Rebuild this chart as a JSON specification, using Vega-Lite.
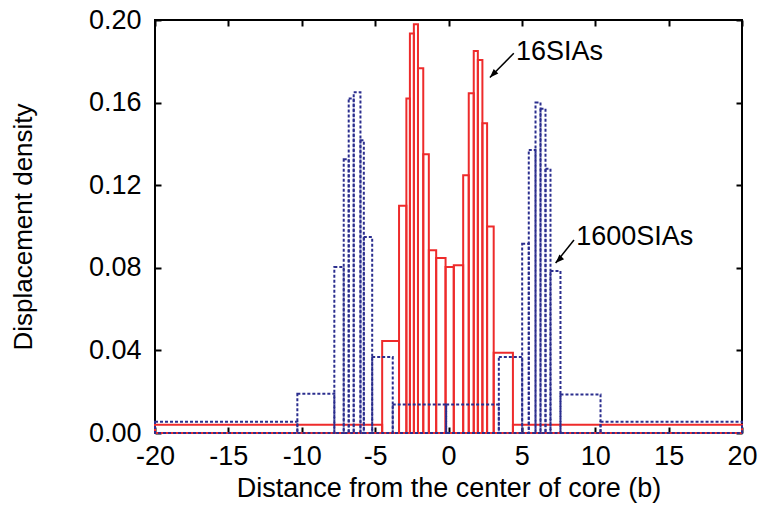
{
  "$schema": "https://vega.github.io/schema/vega-lite/v6.json",
  "width": 587,
  "height": 413,
  "autosize": "none",
  "padding": {"left": 155, "top": 20, "right": 25, "bottom": 94},
  "background": "white",
  "config": {
    "view": {"stroke": "black", "strokeWidth": 2},
    "font": "Liberation Sans",
    "axis": {"domain": false, "grid": false, "tickColor": "black", "tickWidth": 2, "tickSize": -6,
             "labelFont": "Liberation Sans", "labelFontSize": 27, "labelColor": "black",
             "titleFont": "Liberation Sans", "titleFontSize": 27, "titleFontWeight": "normal", "titleColor": "black"}
  },
  "datasets": {
    "bins": [
      {"series": "16SIAs", "x0": -20, "x1": -4.52, "y": 0.004},
      {"series": "16SIAs", "x0": -4.52, "x1": -3.37, "y": 0.0445},
      {"series": "16SIAs", "x0": -3.37, "x1": -2.87, "y": 0.110},
      {"series": "16SIAs", "x0": -2.87, "x1": -2.63, "y": 0.162},
      {"series": "16SIAs", "x0": -2.63, "x1": -2.36, "y": 0.1935},
      {"series": "16SIAs", "x0": -2.36, "x1": -2.08, "y": 0.198},
      {"series": "16SIAs", "x0": -2.08, "x1": -1.72, "y": 0.1766},
      {"series": "16SIAs", "x0": -1.72, "x1": -1.34, "y": 0.135},
      {"series": "16SIAs", "x0": -1.34, "x1": -0.84, "y": 0.0885},
      {"series": "16SIAs", "x0": -0.84, "x1": -0.2, "y": 0.0848},
      {"series": "16SIAs", "x0": -0.2, "x1": 0.36, "y": 0.0804},
      {"series": "16SIAs", "x0": 0.36, "x1": 1.0, "y": 0.0812},
      {"series": "16SIAs", "x0": 1.0, "x1": 1.38, "y": 0.1248},
      {"series": "16SIAs", "x0": 1.38, "x1": 1.72, "y": 0.1645},
      {"series": "16SIAs", "x0": 1.72, "x1": 2.0, "y": 0.185},
      {"series": "16SIAs", "x0": 2.0, "x1": 2.31, "y": 0.1806},
      {"series": "16SIAs", "x0": 2.31, "x1": 2.63, "y": 0.150},
      {"series": "16SIAs", "x0": 2.63, "x1": 3.08, "y": 0.100},
      {"series": "16SIAs", "x0": 3.08, "x1": 4.39, "y": 0.0389},
      {"series": "16SIAs", "x0": 4.39, "x1": 20, "y": 0.004},
      {"series": "1600SIAs", "x0": -20, "x1": -10.3, "y": 0.0055},
      {"series": "1600SIAs", "x0": -10.3, "x1": -7.78, "y": 0.019},
      {"series": "1600SIAs", "x0": -7.78, "x1": -7.14, "y": 0.0804},
      {"series": "1600SIAs", "x0": -7.14, "x1": -6.8, "y": 0.1326},
      {"series": "1600SIAs", "x0": -6.8, "x1": -6.46, "y": 0.162},
      {"series": "1600SIAs", "x0": -6.46, "x1": -6.0, "y": 0.165},
      {"series": "1600SIAs", "x0": -6.0, "x1": -5.77, "y": 0.1418},
      {"series": "1600SIAs", "x0": -5.77, "x1": -5.2, "y": 0.0949},
      {"series": "1600SIAs", "x0": -5.2, "x1": -3.8, "y": 0.0368},
      {"series": "1600SIAs", "x0": -3.8, "x1": -0.16, "y": 0.0138},
      {"series": "1600SIAs", "x0": -0.16, "x1": 3.43, "y": 0.0138},
      {"series": "1600SIAs", "x0": 3.43, "x1": 5.02, "y": 0.0368},
      {"series": "1600SIAs", "x0": 5.02, "x1": 5.47, "y": 0.0917},
      {"series": "1600SIAs", "x0": 5.47, "x1": 5.93, "y": 0.137},
      {"series": "1600SIAs", "x0": 5.93, "x1": 6.27, "y": 0.160},
      {"series": "1600SIAs", "x0": 6.27, "x1": 6.61, "y": 0.157},
      {"series": "1600SIAs", "x0": 6.61, "x1": 6.95, "y": 0.128},
      {"series": "1600SIAs", "x0": 6.95, "x1": 7.63, "y": 0.0785},
      {"series": "1600SIAs", "x0": 7.63, "x1": 10.36, "y": 0.0187},
      {"series": "1600SIAs", "x0": 10.36, "x1": 20, "y": 0.0055}
    ],
    "notes": [
      {"label": "16SIAs", "tx": 4.6, "ty": 0.1846, "x0": 4.45, "y0": 0.1839, "x1": 2.82, "y1": 0.1722},
      {"label": "1600SIAs", "tx": 8.7, "ty": 0.0949, "x0": 8.55, "y0": 0.0935, "x1": 7.3, "y1": 0.0823}
    ]
  },
  "resolve": {"axis": {"x": "independent", "y": "independent"}},
  "layer": [
    {
      "data": {"name": "bins"},
      "transform": [{"filter": "datum.series === '16SIAs'"}],
      "mark": {"type": "rect", "fill": null, "fillOpacity": 0, "stroke": "#ee2b2b", "strokeWidth": 2},
      "encoding": {
        "x": {"field": "x0", "type": "quantitative", "scale": {"domain": [-20, 20], "nice": false, "zero": false},
              "axis": {"orient": "bottom", "values": [-20, -15, -10, -5, 0, 5, 10, 15, 20], "labelFlush": false, "labelOverlap": false, "labelExpr": "datum.value < 0 ? '-' + abs(datum.value) : '' + datum.value", "labelPadding": 16, "title": "Distance from the center of core (b)", "titlePadding": 6}},
        "x2": {"field": "x1"},
        "y": {"field": "y", "type": "quantitative", "scale": {"domain": [0, 0.2], "nice": false},
              "axis": {"orient": "left", "values": [0, 0.04, 0.08, 0.12, 0.16, 0.2], "format": ".2f", "labelPadding": 20, "title": "Displacement density", "titleFontSize": 26, "titlePadding": 52}},
        "y2": {"datum": 0}
      }
    },
    {
      "data": {"name": "bins"},
      "transform": [{"filter": "datum.series === '1600SIAs'"}],
      "mark": {"type": "rect", "fill": null, "fillOpacity": 0, "stroke": "#2b2e8e", "strokeWidth": 2, "strokeDash": [3, 2]},
      "encoding": {
        "x": {"field": "x0", "type": "quantitative", "scale": {"domain": [-20, 20], "nice": false, "zero": false},
              "axis": {"orient": "top", "values": [-20, -15, -10, -5, 0, 5, 10, 15, 20], "labels": false, "title": null}},
        "x2": {"field": "x1"},
        "y": {"field": "y", "type": "quantitative", "scale": {"domain": [0, 0.2], "nice": false},
              "axis": {"orient": "right", "values": [0, 0.04, 0.08, 0.12, 0.16, 0.2], "labels": false, "title": null}},
        "y2": {"datum": 0}
      }
    },
    {
      "data": {"name": "notes"},
      "mark": {"type": "rule", "stroke": "black", "strokeWidth": 1.5},
      "encoding": {
        "x": {"field": "x0", "type": "quantitative", "axis": null, "scale": {"domain": [-20, 20], "nice": false, "zero": false}},
        "x2": {"field": "x1"},
        "y": {"field": "y0", "type": "quantitative", "axis": null, "scale": {"domain": [0, 0.2], "nice": false}},
        "y2": {"field": "y1"}
      }
    },
    {
      "data": {"name": "notes"},
      "mark": {"type": "point", "shape": "M0,0L-0.38,1L0.38,1Z", "filled": true, "color": "black", "size": 300, "angle": 225, "opacity": 1},
      "encoding": {
        "x": {"field": "x1", "type": "quantitative", "axis": null, "scale": {"domain": [-20, 20], "nice": false, "zero": false}},
        "y": {"field": "y1", "type": "quantitative", "axis": null, "scale": {"domain": [0, 0.2], "nice": false}}
      }
    },
    {
      "data": {"name": "notes"},
      "mark": {"type": "text", "align": "left", "baseline": "middle", "font": "Liberation Sans", "fontSize": 27, "color": "black"},
      "encoding": {
        "x": {"field": "tx", "type": "quantitative", "axis": null, "scale": {"domain": [-20, 20], "nice": false, "zero": false}},
        "y": {"field": "ty", "type": "quantitative", "axis": null, "scale": {"domain": [0, 0.2], "nice": false}},
        "text": {"field": "label"}
      }
    }
  ]
}
